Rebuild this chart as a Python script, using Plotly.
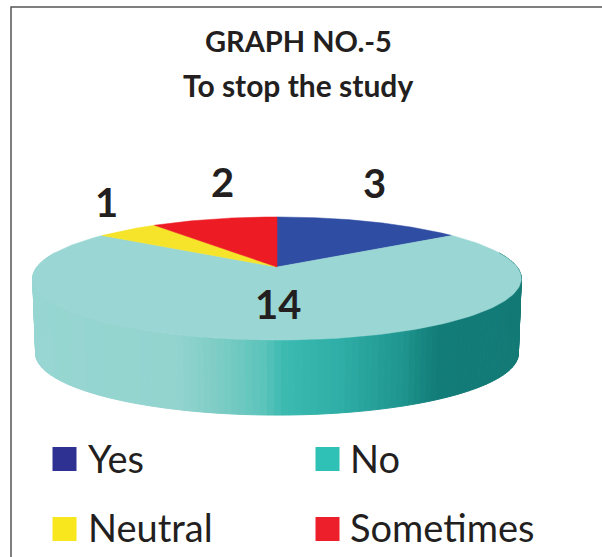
import numpy as np
import plotly.graph_objects as go

# Data
categories = ["Yes", "No", "Neutral", "Sometimes"]
values = [3, 14, 1, 2]
top_colors = ["#2f4da2", "#9ad6d4", "#f5e42a", "#ed1c24"]
legend_colors = ["#2e3192", "#2fc1b5", "#f9e71e", "#ed1f2b"]

# Pie geometry (screen px, y downward)
CX, CY = 277, 267
RX, RY, PERSP = 240, 59.4, 0.187
DEPTH = 75
TAPER = 0.988
INK = "#231f20"


def project(theta):
    u, v = np.sin(theta), np.cos(theta)
    w = 1 + PERSP * v
    return CX + RX * u / w, CY - RY * v / w


def lerp_color(stops, t):
    xs = [s[0] for s in stops]
    chans = [np.interp(t, xs, [int(s[1][i:i + 2], 16) for s in stops]) for i in (1, 3, 5)]
    return "rgb({:.0f},{:.0f},{:.0f})".format(*chans)


wall_stops = [(32, "#97d6d2"), (175, "#93d4cf"), (215, "#7fcdc6"), (262, "#5cc4bb"), (285, "#3bbab0"),
              (340, "#2eaea6"), (400, "#209690"), (437, "#127c78"), (522, "#137a76")]

fig = go.Figure()

# Side wall strips, drawn from the visible rim of the disc
thetas = np.linspace(np.pi * 0.42, np.pi * 1.58, 150)
for a, b in zip(thetas[:-1], thetas[1:]):
    ts = np.linspace(a, b, 3)
    xs, ys = project(ts)
    xb = CX + (xs - CX) * TAPER
    px = np.r_[xs, xb[::-1], xs[0]]
    py = np.r_[ys, ys[::-1] + DEPTH, ys[0]]
    col = lerp_color(wall_stops, float(xs.mean()))
    fig.add_trace(go.Scatter(x=px, y=py, mode="lines", fill="toself", fillcolor=col,
                             line=dict(color=col, width=1), hoverinfo="skip", showlegend=False))

# Top face slices, from the values
fractions = np.cumsum([0] + values) / sum(values)
for i, name in enumerate(categories):
    ts = np.linspace(fractions[i], fractions[i + 1], 160) * 2 * np.pi
    xs, ys = project(ts)
    fig.add_trace(go.Scatter(x=np.r_[CX, xs, CX], y=np.r_[CY, ys, CY], mode="lines", fill="toself",
                             fillcolor=top_colors[i], line=dict(color=top_colors[i], width=0.5),
                             name=name, hoverinfo="name", showlegend=False))

# Legend as real square markers with text
leg_x = [64.5, 327.5, 64.5, 327.5]
leg_y = [459, 459, 529, 529]
fig.add_trace(go.Scatter(x=leg_x, y=leg_y, mode="markers",
                         marker=dict(symbol="square", size=24, color=legend_colors),
                         hoverinfo="skip", showlegend=False))

annotations = []
for x, y, name in zip([86, 348, 86, 348], [458, 458, 527, 527], categories):
    annotations.append(dict(x=x, y=y, text=name, xanchor="left", yanchor="middle", showarrow=False,
                            font=dict(family="Lato", size=38, color=INK)))

# Data labels
label_pos = [(374, 183), (278, 304), (106, 202), (222, 182)]
for (x, y), v in zip(label_pos, values):
    annotations.append(dict(x=x, y=y, text=str(v), xanchor="center", yanchor="middle", showarrow=False,
                            font=dict(family="Lato", size=40, color=INK, weight="bold")))

# Title
for y, t, s in [(40, "GRAPH NO.-5", 29), (85, "To stop the study", 30)]:
    annotations.append(dict(x=298, y=y, text=t, xanchor="center", yanchor="middle", showarrow=False,
                            font=dict(family="Lato", size=s, color=INK, weight="bold")))

fig.update_layout(
    width=602, height=557, autosize=False,
    margin=dict(l=0, r=0, t=0, b=0),
    paper_bgcolor="white", plot_bgcolor="white",
    xaxis=dict(range=[0, 602], visible=False, fixedrange=True),
    yaxis=dict(range=[557, 0], visible=False, fixedrange=True),
    annotations=annotations,
    shapes=[dict(type="path", path="M 11 557 L 11 7 L 602 7", xref="x", yref="y",
                 line=dict(color="#555555", width=1.5))],
)
fig.write_html("out.html", config=dict(displayModeBar=False),
               post_script="document.body.style.margin='0';document.documentElement.style.overflow='hidden';")
